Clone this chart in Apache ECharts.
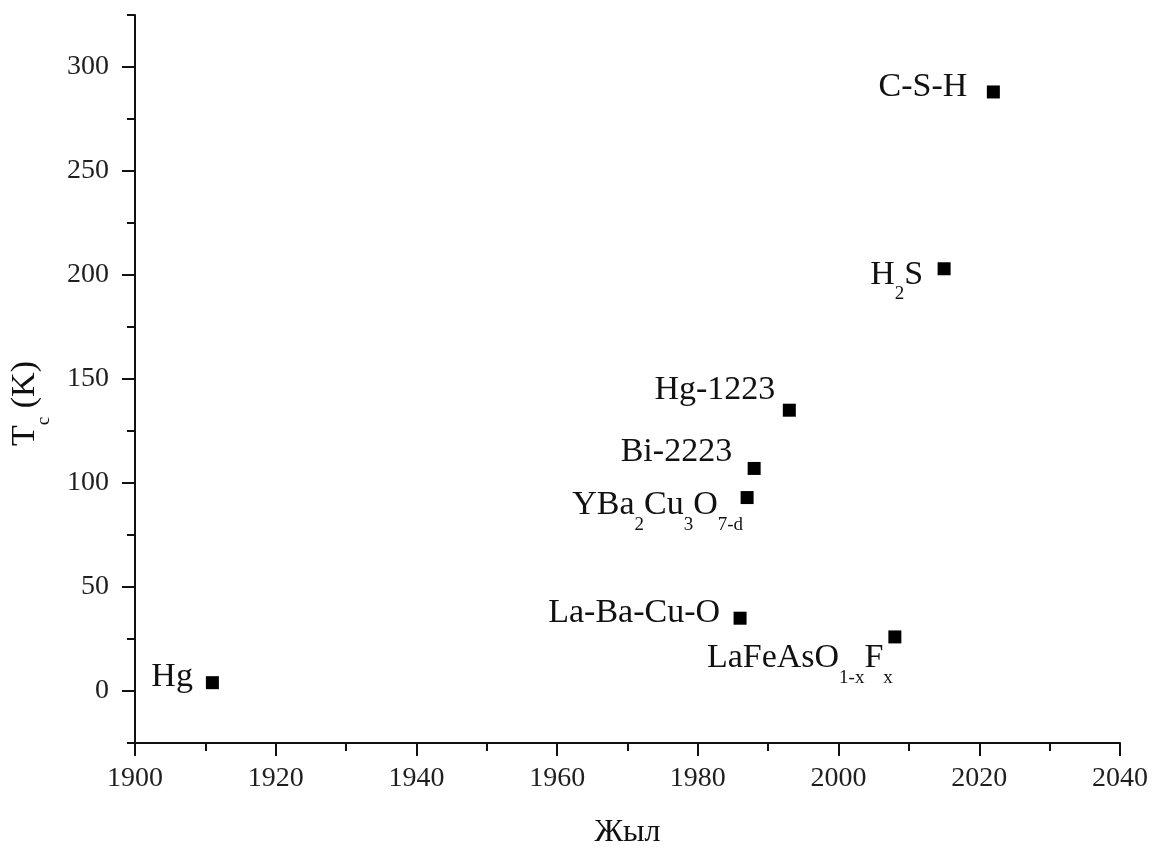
<!DOCTYPE html>
<html>
<head>
<meta charset="utf-8">
<script src="https://cdn.jsdelivr.net/npm/echarts@6/dist/echarts.min.js"></script>
<style>
  html, body { margin: 0; padding: 0; background: #ffffff; }
  #chart { width: 1152px; height: 847px; }
</style>
</head>
<body>
<div id="chart"></div>
<script>
// ---- data ----
const materials = ['Hg', 'La-Ba-Cu-O', 'YBa2Cu3O7-d', 'Bi-2223', 'Hg-1223', 'LaFeAsO1-xFx', 'H2S', 'C-S-H'];
const labelTexts = [
  'Hg',
  'La-Ba-Cu-O',
  '{m|YBa}{s|2}{m|Cu}{s|3}{m|O}{s|7-d}',
  'Bi-2223',
  'Hg-1223',
  '{m|LaFeAsO}{s|1-x}{m|F}{s|x}',
  '{m|H}{s|2}{m|S}',
  'C-S-H'
];
const years = [1911, 1986, 1987, 1988, 1993, 2008, 2015, 2022];
const tcValues = [4, 35, 93, 107, 135, 26, 203, 288];
const yTickValues = [0, 50, 100, 150, 200, 250, 300];
const yMinorTickValues = [-25, 25, 75, 125, 175, 225, 275, 325];
const xAxisTitle = 'Жыл';
const yAxisTitle = '{m|T}{s|c}{m| (K)}';

// ---- label placement (style, not data) ----
const labelPlacement = [
  { distance: 13, dy: -5.5 },
  { distance: 13.5, dy: -5.5 },
  { distance: -2.5, dy: 8 },
  { distance: 15.5, dy: -16 },
  { distance: 7.5, dy: -20 },
  { distance: -4.5, dy: 21.5 },
  { distance: 14.5, dy: 6 },
  { distance: 19.5, dy: -5 }
];

const SERIF = '"Liberation Serif", "Times New Roman", "DejaVu Serif", serif';
const INK = '#111111';
const richStyles = {
  m: { fontFamily: SERIF, fontSize: 34, color: INK, verticalAlign: 'top' },
  s: { fontFamily: SERIF, fontSize: 19, lineHeight: 2, color: INK, verticalAlign: 'top', padding: [27, 0, 0, 0] }
};

const seriesData = years.map((yr, i) => ({
  name: materials[i],
  value: [yr, tcValues[i]],
  label: {
    formatter: labelTexts[i],
    distance: labelPlacement[i].distance,
    offset: [0, labelPlacement[i].dy]
  }
}));

const chart = echarts.init(document.getElementById('chart'), null, { renderer: 'canvas' });

const axisLineStyle = { color: INK, width: 2 };

chart.setOption({
  backgroundColor: '#ffffff',
  animation: false,
  grid: { left: 135, right: 32, top: 15, bottom: 104, outerBoundsMode: 'none', containLabel: false },
  xAxis: {
    type: 'value',
    min: 1900,
    max: 2040,
    interval: 20,
    name: xAxisTitle,
    nameLocation: 'middle',
    nameGap: 74,
    nameTextStyle: { fontFamily: SERIF, fontSize: 32, color: INK },
    axisLine: { show: true, onZero: false, lineStyle: axisLineStyle },
    axisTick: { show: true, inside: false, length: 13, lineStyle: { color: INK, width: 2 } },
    minorTick: { show: true, splitNumber: 2, length: 8, lineStyle: { color: INK, width: 2 } },
    axisLabel: { fontFamily: SERIF, fontSize: 28, color: '#1f1f1f', margin: 22, formatter: (v) => String(v) },
    splitLine: { show: false },
    minorSplitLine: { show: false }
  },
  yAxis: [
    {
      type: 'value',
      min: -25,
      max: 325,
      position: 'left',
      name: yAxisTitle,
      nameLocation: 'middle',
      nameGap: 93,
      nameRotate: 90,
      nameTextStyle: { fontFamily: SERIF, fontSize: 34, color: INK, padding: [0, 49, 0, 0], rich: richStyles },
      axisLine: { show: true, onZero: false, lineStyle: axisLineStyle },
      axisTick: { show: true, inside: false, length: 13, customValues: yTickValues, lineStyle: { color: INK, width: 2 } },
      axisLabel: { fontFamily: SERIF, fontSize: 28, color: '#1f1f1f', margin: 26, customValues: yTickValues, formatter: (v) => String(v) },
      splitLine: { show: false }
    },
    {
      type: 'value',
      min: -25,
      max: 325,
      position: 'left',
      axisLine: { show: false },
      axisTick: { show: true, inside: false, length: 8, customValues: yMinorTickValues, lineStyle: { color: INK, width: 2 } },
      axisLabel: { show: false },
      splitLine: { show: false }
    }
  ],
  series: [
    {
      type: 'scatter',
      xAxisIndex: 0,
      yAxisIndex: 0,
      symbol: 'rect',
      symbolSize: 13,
      itemStyle: { color: '#000000', opacity: 1 },
      label: {
        show: true,
        position: 'left',
        fontFamily: SERIF,
        fontSize: 34,
        color: INK,
        rich: richStyles
      },
      emphasis: { disabled: true },
      data: seriesData
    }
  ]
});
</script>
</body>
</html>
